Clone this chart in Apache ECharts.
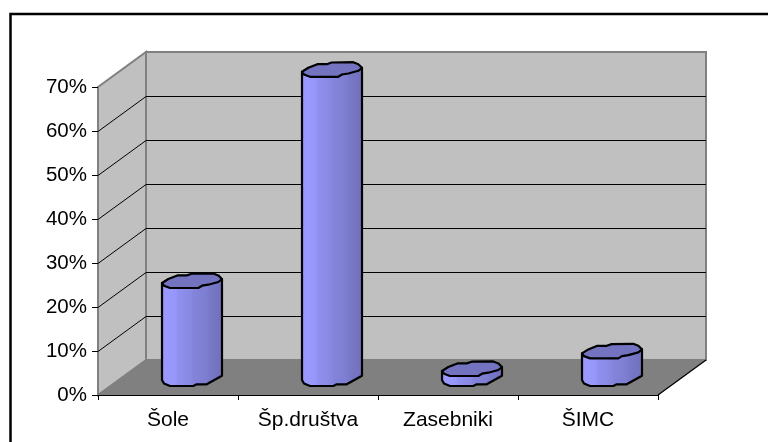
<!DOCTYPE html>
<html>
<head>
<meta charset="utf-8">
<style>html,body{margin:0;padding:0;background:#fff}#c{width:768px;height:442px}</style>
<script src="https://cdn.jsdelivr.net/npm/echarts@6/dist/echarts.min.js"></script>
</head>
<body>
<div id="c"></div>
<script>
const categories = ['Šole', 'Šp.društva', 'Zasebniki', 'ŠIMC'];
const shares = [22, 70, 2, 6];
const gridValues = [10, 20, 30, 40, 50, 60];
const axisMax = 70;

const DX = 48, DY = -35, FONT = 'Liberation Sans';
const TOP_UP = [[-30,2.3],[-23.7,-1.7],[-14.7,-5.3],[-5.3,-5.3],[-0.3,-7],[21.3,-7.3],[26.3,-5.3],[30,-1.7]];
const TOP_DOWN = [[30,-1.7],[26.3,1.3],[16.3,4],[10,5],[6.3,7.3],[-22,7.3],[-28,5],[-30,2.3]];
const BASE_UP = [[-30,2.5],[-28,6],[-22,8.5],[1.3,8.5],[4.7,6.8],[14.7,6.8],[30,-1.8]];

const chart = echarts.init(document.getElementById('c'), null, {renderer: 'canvas'});

function poly(points, style, z2) {
  return {type: 'polygon', shape: {points}, style, z2: z2 || 0, silent: true};
}
function line(x1, y1, x2, y2, stroke, lineWidth, z2) {
  return {type: 'line', shape: {x1, y1, x2, y2}, style: {stroke, lineWidth}, z2: z2 || 0, silent: true};
}

function renderWalls(params, api) {
  const a = api.coord([0, 0]), b = api.coord([categories.length - 1, 0]), t = api.coord([0, axisMax]);
  const half = (b[0] - a[0]) / (categories.length - 1) / 2;
  const x0 = a[0] - half, x1 = b[0] + half, y0 = a[1], yt = t[1];
  return {type: 'group', children: [
    poly([[x0 + DX, y0 + DY], [x1 + DX, y0 + DY], [x1 + DX, yt + DY], [x0 + DX, yt + DY]],
      {fill: '#c0c0c0', stroke: '#808080', lineWidth: 2}),
    poly([[x0, y0], [x0 + DX, y0 + DY], [x0 + DX, yt + DY], [x0, yt]],
      {fill: '#c0c0c0', stroke: '#808080', lineWidth: 2}),
    poly([[x0, y0], [x1, y0], [x1 + DX, y0 + DY], [x0 + DX, y0 + DY]],
      {fill: '#808080', stroke: '#808080', lineWidth: 1}),
    line(x1, y0, x1 + DX, y0 + DY, '#000', 1.2, 2)
  ]};
}

function renderGrid(params, api) {
  const v = api.value(0);
  const a = api.coord([0, v]), b = api.coord([categories.length - 1, v]);
  const half = (b[0] - a[0]) / (categories.length - 1) / 2;
  const x0 = a[0] - half, x1 = b[0] + half, y = Math.round(a[1]) + 0.5;
  return {type: 'group', children: [
    line(x0, y, x0 + DX, y + DY, '#000', 1),
    line(x0 + DX, y + DY, x1 + DX, y + DY, '#000', 1)
  ]};
}

function renderBar(params, api) {
  const top = api.coord([api.value(0), api.value(1)]);
  const base = api.coord([api.value(0), 0]);
  const cx = top[0] + DX / 2;
  const yTop = top[1] + DY / 2, yBase = base[1] + DY / 2;
  const at = (pts, y) => pts.map(p => [cx + p[0], y + p[1]]);
  const body = at(TOP_UP.slice(0, 1), yTop)
    .concat(at(BASE_UP, yBase))
    .concat(at([[30, -1.7]], yTop));
  const gradient = new echarts.graphic.LinearGradient(0, 0, 1, 0, [
    {offset: 0, color: '#8f8ff2'}, {offset: 0.07, color: '#9999ff'},
    {offset: 0.25, color: '#9696fa'}, {offset: 0.26, color: '#9090f0'},
    {offset: 0.5, color: '#8888e2'}, {offset: 0.51, color: '#8484db'},
    {offset: 0.75, color: '#7d7dd0'}, {offset: 0.76, color: '#7a7acb'},
    {offset: 1, color: '#6f6fba'}
  ]);
  return {type: 'group', children: [
    poly(body, {fill: gradient, stroke: '#000', lineWidth: 2.2, lineJoin: 'round'}, 3),
    poly(at(TOP_UP.concat(TOP_DOWN), yTop), {fill: '#7373bf', stroke: '#000', lineWidth: 2.2, lineJoin: 'round'}, 4)
  ]};
}

chart.setOption({
  animation: false,
  backgroundColor: '#fff',
  grid: {left: 98, right: 110, top: 87, bottom: 47, containLabel: false},
  xAxis: {
    type: 'category', data: categories,
    axisLine: {show: true, lineStyle: {color: '#000', width: 1}},
    axisTick: {show: true, length: 5, lineStyle: {color: '#000'}},
    axisLabel: {color: '#000', fontFamily: FONT, fontSize: 21, margin: 15},
    splitLine: {show: false}
  },
  yAxis: {
    type: 'value', min: 0, max: axisMax, interval: 10,
    axisLine: {show: true, lineStyle: {color: '#808080', width: 1}},
    axisTick: {show: true, length: 6, lineStyle: {color: '#000'}},
    axisLabel: {color: '#000', fontFamily: FONT, fontSize: 20.5, margin: 11, formatter: '{value}%'},
    splitLine: {show: false}
  },
  graphic: [{
    type: 'polyline', silent: true, z: 100,
    shape: {points: [[10.5, 442], [10.5, 14], [768, 14]]},
    style: {stroke: '#000', fill: null, lineWidth: 2.5}
  }],
  series: [
    {type: 'custom', name: 'walls', z: 0, clip: false, silent: true, renderItem: renderWalls, data: [[0]]},
    {type: 'custom', name: 'grid', z: 1, clip: false, silent: true, renderItem: renderGrid, data: gridValues.map(v => [v])},
    {type: 'custom', name: 'Delež', z: 3, clip: false, silent: true, renderItem: renderBar, data: shares.map((v, i) => [i, v])}
  ]
});
</script>
</body>
</html>
